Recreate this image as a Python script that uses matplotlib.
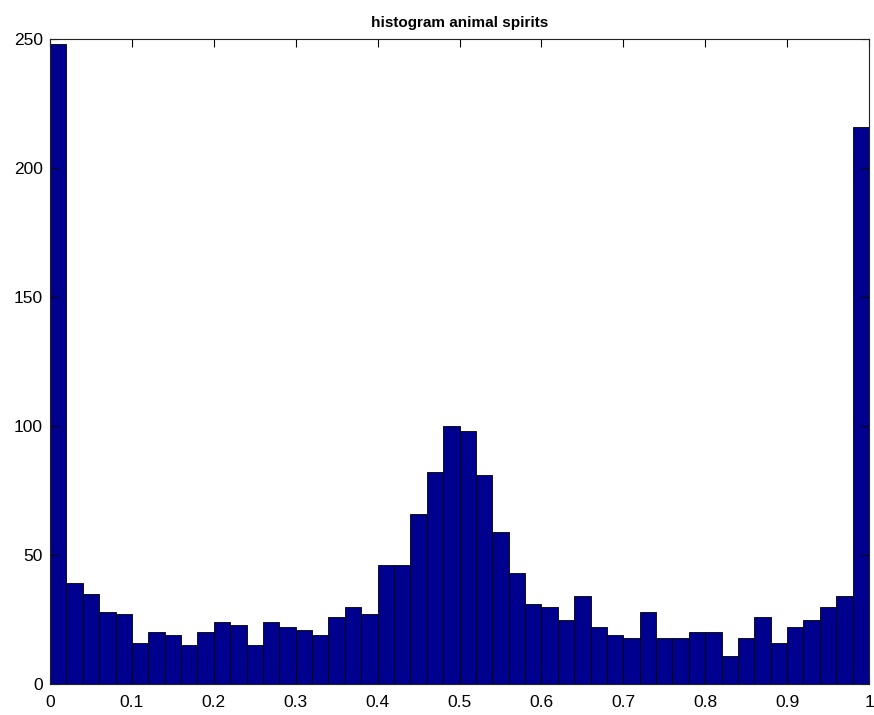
import numpy as np
import matplotlib
matplotlib.use('Agg')
import matplotlib.pyplot as plt

plt.rcParams['font.family'] = ['Liberation Sans', 'DejaVu Sans']

# Bin counts for 50 equal bins over [0, 1]
counts = [248, 39, 35, 28, 27, 16, 20, 19, 15, 20,
          24, 23, 15, 24, 22, 21, 19, 26, 30, 27,
          46, 46, 66, 82, 100, 98, 81, 59, 43, 31,
          30, 25, 34, 22, 19, 18, 28, 18, 18, 20,
          20, 11, 18, 26, 16, 22, 25, 30, 34, 216]
bin_edges = np.linspace(0, 1, len(counts) + 1)
x_ticks = [0, 0.1, 0.2, 0.3, 0.4, 0.5, 0.6, 0.7, 0.8, 0.9, 1]
x_tick_labels = ['0', '0.1', '0.2', '0.3', '0.4', '0.5', '0.6', '0.7', '0.8', '0.9', '1']
y_ticks = [0, 50, 100, 150, 200, 250]

fig = plt.figure(figsize=(8.74, 7.15), dpi=100)
ax = fig.add_axes([50 / 874, 31 / 715, 819 / 874, 645 / 715])

ax.bar(bin_edges[:-1], counts, width=np.diff(bin_edges), align='edge',
       color='#00008F', edgecolor='black', linewidth=0.6)

ax.set_xlim(0, 1)
ax.set_ylim(0, 250)
ax.set_xticks(x_ticks)
ax.set_xticklabels(x_tick_labels)
ax.set_yticks(y_ticks)
ax.tick_params(direction='in', length=6, width=0.8, labelsize=12.5,
               top=True, right=True)
ax.tick_params(axis='x', pad=8)
ax.tick_params(axis='y', pad=5)
for spine in ax.spines.values():
    spine.set_linewidth(0.8)
    spine.set_color('#222222')

ax.set_title('histogram animal spirits', fontsize=11, fontweight='bold', pad=9)

fig.savefig('out.png', dpi=100)
